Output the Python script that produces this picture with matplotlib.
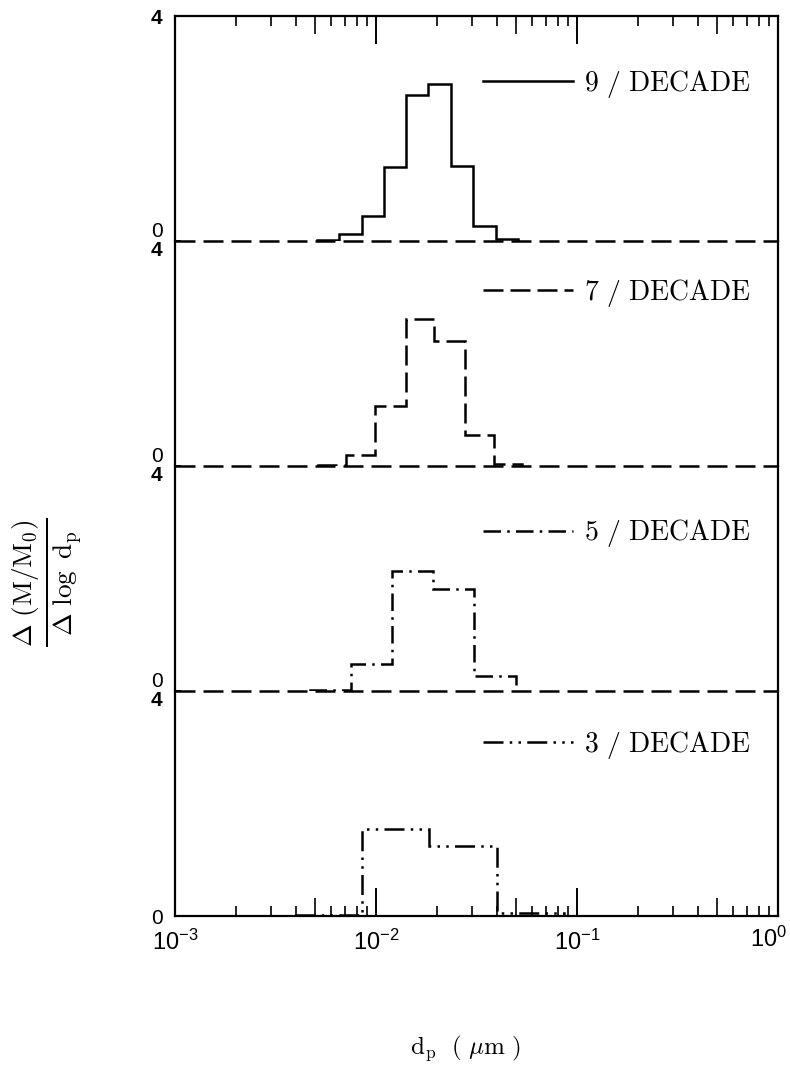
"""
粒徑分布直方圖 - 四種分辨率 (9/7/5/3 per decade)
"""

import matplotlib
matplotlib.use('Agg')
import matplotlib.pyplot as plt
from matplotlib.lines import Line2D
from matplotlib.ticker import LogLocator, NullLocator, NullFormatter

plt.rcParams['font.family'] = ['Liberation Sans', 'DejaVu Sans']
plt.rcParams['mathtext.fontset'] = 'cm'

# 區間邊界 (um) 與各區間高度
edges_9 = [0.00508, 0.00656, 0.00847, 0.01094, 0.01413, 0.01824, 0.02355, 0.03048, 0.03936, 0.05082]
vals_9 = [0.02, 0.12, 0.44, 1.31, 2.60, 2.79, 1.33, 0.27, 0.03]

edges_7 = [0.00513, 0.00713, 0.00991, 0.01416, 0.01950, 0.02761, 0.03873, 0.05309]
vals_7 = [0.02, 0.19, 1.06, 2.62, 2.22, 0.55, 0.03]

edges_5 = [0.00468, 0.00753, 0.01208, 0.01923, 0.03090, 0.04966]
vals_5 = [0.02, 0.48, 2.14, 1.81, 0.26]

edges_3 = [0.00398, 0.00853, 0.01841, 0.03981, 0.08570]
vals_3 = [0.01, 1.55, 1.25, 0.06]

labels = ['9 / DECADE', '7 / DECADE', '5 / DECADE', '3 / DECADE']
label_y = [0.70, 0.77, 0.70, 0.76]   # 標籤垂直位置 (axes fraction)

x_ticks = [1e-3, 1e-2, 1e-1, 1e0]
x_ticklabels = [r'$\mathdefault{10^{-3}}$', r'$\mathdefault{10^{-2}}$',
                r'$\mathdefault{10^{-1}}$', r'$\mathdefault{10^{0}}$']
x_min, x_max = 1e-3, 1e0
y_max = 4

# 線型
styles = ['-', (0, (8, 2.8)), (0, (7, 2.5, 1, 2.5)), (0, (8, 2.5, 1, 2.5, 1, 2.5))]
sep_style = (0, (8, 3.2))
lw = 1.8

fig = plt.figure(figsize=(7.9, 10.71), dpi=100)

left, width = 175 / 790, 603 / 790
panel_h = 225 / 1071
top = 1 - 16 / 1071

series = [(edges_9, vals_9), (edges_7, vals_7), (edges_5, vals_5), (edges_3, vals_3)]
axes = []
for i, (edges, vals) in enumerate(series):
    bottom = top - (i + 1) * panel_h
    ax = fig.add_axes([left, bottom, width, panel_h])
    ax.set_facecolor('none')
    axes.append(ax)
    ax.set_xscale('log')
    ax.set_xlim(x_min, x_max)
    ax.set_ylim(0, y_max)

    ax.stairs(vals, edges, baseline=0, fill=False, color='black',
              linewidth=lw, linestyle=styles[i], zorder=4)

    # 圖例
    handle = Line2D([], [], color='black', linewidth=lw, linestyle=styles[i])
    ax.legend([handle], [r'$\mathrm{' + labels[i].replace(' ', r'\ ') + '}$'],
              loc='center right', bbox_to_anchor=(0.955, label_y[i]),
              frameon=False, fontsize=20, handlelength=3.25, handletextpad=0.4,
              borderpad=0, borderaxespad=0)

    # 邊框
    for s in ['left', 'right', 'top', 'bottom']:
        ax.spines[s].set_linewidth(1.6)
    if i < 3:
        ax.spines['bottom'].set_visible(False)
        ax.axhline(0, color='black', linewidth=lw, linestyle=sep_style,
                   clip_on=False, zorder=3)
    if i > 0:
        ax.spines['top'].set_visible(False)

    # y 軸刻度
    ax.set_yticks([0, y_max])
    ax.set_yticklabels(['0', '4'])
    ax.tick_params(axis='y', direction='in', length=4, width=1.2, pad=9,
                   labelsize=15, right=False)
    tl0, tl4 = ax.get_yticklabels()
    tl4.set_fontweight('bold')
    if i < 3:
        tl0.set_va('bottom')
    if i > 0:
        tl4.set_va('top')

    # x 軸刻度
    ax.set_xticks(x_ticks)
    ax.set_xticklabels(x_ticklabels[:-1] + [''])
    ax.xaxis.set_minor_locator(LogLocator(base=10, subs=[2, 3, 4, 6, 7, 8, 9], numticks=10))
    ax.xaxis.set_minor_formatter(NullFormatter())
    if i == 0:
        ax.tick_params(axis='x', which='both', direction='in', top=True, bottom=False,
                       labeltop=False, labelbottom=False)
    elif i == 3:
        ax.tick_params(axis='x', which='both', direction='in', top=False, bottom=True,
                       labelbottom=True, labelsize=17, pad=10)
    else:
        ax.tick_params(axis='x', which='both', top=False, bottom=False,
                       labelbottom=False)
    ax.tick_params(axis='x', which='major', length=20, width=1.4)
    ax.tick_params(axis='x', which='minor', length=7, width=1.2)

    # 5 的中長刻度
    if i in (0, 3):
        loc = 'top' if i == 0 else 'bottom'
        sec = ax.secondary_xaxis(loc)
        sec.set_xticks([5e-3, 5e-2, 5e-1])
        sec.xaxis.set_minor_locator(NullLocator())
        sec.set_xticklabels([])
        sec.tick_params(axis='x', direction='in', length=13, width=1.2)
        sec.spines[loc].set_visible(False)

# 最右邊的 10^0 標籤, 稍微往左
axes[3].annotate(x_ticklabels[-1], xy=(x_ticks[-1], 0),
                 xycoords=axes[3].get_xaxis_transform(),
                 xytext=(-7, -7.5), textcoords='offset points',
                 ha='center', va='top', fontsize=17)

fig.text(47 / 790, 1 - 582 / 1071,
         r'$\frac{\Delta\ (\mathrm{M/M_0})}{\Delta\ \log\ \mathrm{d_p}}$',
         rotation=90, ha='center', va='center', fontsize=28)
fig.text(465 / 790, 1 - 1048 / 1071, r'$\mathrm{d_p}\ \ (\ \mu\mathrm{m}\ )$',
         ha='center', va='center', fontsize=18)

fig.savefig('out.png', dpi=100)
